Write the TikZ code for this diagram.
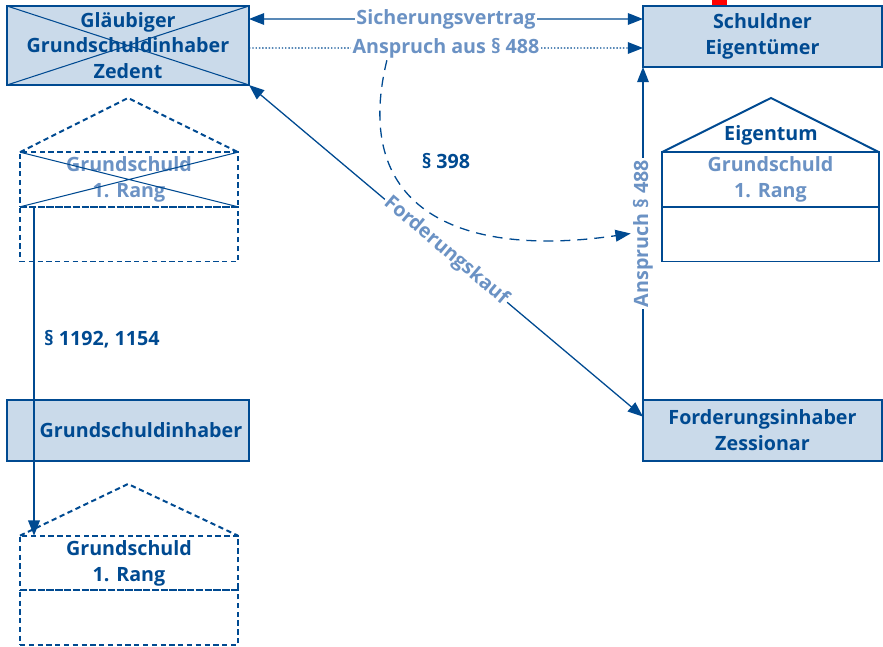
\documentclass[tikz,border=0pt]{standalone}
\usepackage{fontspec}
\setmainfont{Open Sans}
\usepackage{xcolor}
\usetikzlibrary{arrows.meta,positioning,calc}

\definecolor{darkblue}{RGB}{0,74,145}
\definecolor{lightblue}{RGB}{107,146,196}
\definecolor{boxfill}{RGB}{202,218,234}

\begin{document}
\begin{tikzpicture}[
        x=0.03cm, y=-0.03cm,
        >={Triangle[length=13pt, width=10pt]},
        txt/.style={font=\bfseries\fontsize{16.8}{22}\selectfont, text=darkblue, align=center},
        box/.style={txt, rectangle, draw=darkblue, fill=boxfill, line width=1.1pt, inner sep=0pt, outer sep=0pt},
        part/.style={txt, rectangle, draw=darkblue, line width=1.7pt, inner sep=0pt, outer sep=0pt, minimum width=6.54cm, minimum height=1.64cm},
        dpart/.style={part, dash pattern=on 4.5pt off 3pt},
        roof/.style={darkblue, line width=1.7pt},
        droof/.style={roof, dash pattern=on 4.5pt off 3pt},
        lbl/.style={txt, text=lightblue, fill=white, inner sep=1.5pt},
        arrow/.style={->, darkblue, line width=1.1pt},
        cross/.style={darkblue, line width=0.9pt}
    ]
        \useasboundingbox (0,0) rectangle (883,647);
        % parties
        \node[fill=red, inner sep=0pt, minimum width=0.45cm, minimum height=0.21cm] (redtag) at (719.5,3.5) {};
        \node[box, minimum width=7.26cm, minimum height=2.37cm] (glaeub) at (128,45.5) {Gläubiger\\Grundschuldinhaber\\Zedent};
        \draw[cross] (glaeub.north west) -- (glaeub.south east) (glaeub.south west) -- (glaeub.north east);
        \node[box, minimum width=7.17cm, minimum height=1.83cm] (schuld) at (762.5,36.5) {Schuldner\\Eigentümer};
        \node[box, minimum width=7.17cm, minimum height=1.83cm] (fordinh) at (762.5,430.5) {Forderungsinhaber\\Zessionar};
        \node[box, minimum width=7.26cm, minimum height=1.83cm] (gsinh) at (128,430.5) {\hspace*{0.78cm}Grundschuldinhaber};
        % houses
        \node[part, minimum width=6.51cm, text=lightblue] (eigtop) at (770.5,179.5) {Grundschuld\\1. Rang};
        \node[part, minimum width=6.51cm, below=0pt of eigtop] (eigbot) {};
        \coordinate (eigroof) at (771,98);
        \draw[roof] (eigtop.north west) -- (eigroof) -- (eigtop.north east);
        \node[txt] (eigentum) at (771,135) {Eigentum};
        \node[dpart, text=lightblue] (alttop) at (129,179.5) {Grundschuld\\1. Rang};
        \node[dpart, below=0pt of alttop] (altbot) {};
        \coordinate (altroof) at (128,98);
        \draw[droof] (alttop.north west) -- (altroof) -- (alttop.north east);
        \draw[cross] (alttop.north west) -- (alttop.south east) (alttop.south west) -- (alttop.north east);
        \node[dpart] (neutop) at (129,563) {Grundschuld\\1. Rang};
        \node[dpart, below=0pt of neutop] (neubot) {};
        \coordinate (neuroof) at (128,484);
        \draw[droof] (neutop.north west) -- (neuroof) -- (neutop.north east);
        % connectors
        \draw[arrow, <->] ([yshift=-0.39cm]glaeub.north east) -- node[lbl] (sicher) {Sicherungsvertrag} ([yshift=-0.39cm]schuld.north west);
        \draw[arrow, dash pattern=on 1.2pt off 1.6pt, line width=1pt] ([yshift=-1.26cm]glaeub.north east) -- node[lbl] (anspr) {Anspruch aus § 488} ([yshift=-1.26cm]schuld.north west);
        \draw[arrow, <->] (glaeub.south east) -- node[lbl, sloped] (kauf) {Forderungskauf} ([yshift=-0.5cm]fordinh.north west);
        \draw[arrow] (fordinh.north west) -- node[lbl, sloped] (ansprv) {Anspruch § 488} (schuld.south west);
        \draw[arrow, dash pattern=on 8.5pt off 6pt] ([xshift=1.1cm]anspr.south west) .. controls (350,212) and (463,258) .. (ansprv.north);
        \node[txt] (p398) at (446,161) {§ 398};
        \draw[arrow] ([xshift=0.42cm]alttop.south west) -- ([xshift=0.42cm]neutop.north west);
        \node[txt, anchor=west] (p1192) at (40,339) {§ 1192, 1154};
\end{tikzpicture}
\end{document}
